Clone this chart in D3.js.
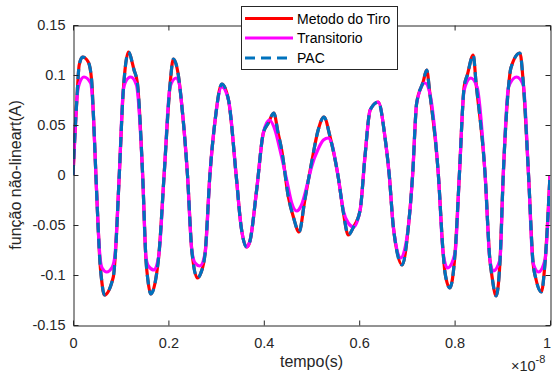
<!DOCTYPE html>
<html>
<head>
<meta charset="utf-8">
<script src="https://cdn.jsdelivr.net/npm/d3@7"></script>
<style>
  html, body { margin: 0; padding: 0; background: #ffffff; }
  svg { display: block; }
  text { font-family: "Liberation Sans", Arial, Helvetica, sans-serif; }
</style>
</head>
<body>
<svg id="chart" width="552" height="374"></svg>
<script>
// ---------- DATA (time in units of 1e-8 s) ----------
const xTickValues = [0, 0.2, 0.4, 0.6, 0.8, 1];
const xTickLabels = ["0", "0.2", "0.4", "0.6", "0.8", "1"];
const yTickValues = [-0.15, -0.1, -0.05, 0, 0.05, 0.1, 0.15];
const yTickLabels = ["-0.15", "-0.1", "-0.05", "0", "0.05", "0.1", "0.15"];
const seriesNames = ["Metodo do Tiro", "Transitorio", "PAC"];

// Metodo do Tiro: [tempo, valor]
const metodoTiro = [
  [0.000, 0.000], [0.004, 0.040], [0.008, 0.075], [0.013, 0.110], [0.020, 0.118],
  [0.032, 0.113], [0.039, 0.095], [0.0426, 0.062], [0.048, 0.000], [0.053, -0.055],
  [0.0566, -0.088], [0.060, -0.105], [0.0657, -0.120], [0.0845, -0.102], [0.088, -0.085],
  [0.097, 0.000], [0.1055, 0.085], [0.109, 0.105], [0.116, 0.123], [0.128, 0.105],
  [0.135, 0.092], [0.146, 0.000], [0.153, -0.085], [0.157, -0.105], [0.163, -0.119],
  [0.1755, -0.098], [0.180, -0.080], [0.191, 0.000], [0.2034, 0.090], [0.2103, 0.116],
  [0.2208, 0.100], [0.228, 0.070], [0.240, 0.000], [0.249, -0.075], [0.2606, -0.103],
  [0.268, -0.098], [0.277, -0.078], [0.287, 0.000], [0.298, 0.055], [0.312, 0.091],
  [0.326, 0.075], [0.342, 0.000], [0.352, -0.050], [0.364, -0.072], [0.371, -0.066],
  [0.385, -0.015], [0.399, 0.042], [0.4095, 0.052], [0.421, 0.062], [0.430, 0.042],
  [0.4375, 0.025], [0.4515, -0.022], [0.462, -0.042], [0.474, -0.057], [0.486, -0.025],
  [0.500, 0.012], [0.514, 0.045], [0.526, 0.058], [0.539, 0.038], [0.556, -0.002],
  [0.567, -0.038], [0.577, -0.060], [0.588, -0.052], [0.602, -0.035], [0.612, 0.018],
  [0.623, 0.065], [0.640, 0.073], [0.654, 0.038], [0.663, 0.000], [0.6716, -0.052],
  [0.690, -0.090], [0.703, -0.052], [0.712, 0.000], [0.7205, 0.072], [0.734, 0.093],
  [0.7415, 0.105], [0.748, 0.082], [0.766, 0.000], [0.776, -0.078], [0.780, -0.098],
  [0.790, -0.113], [0.801, -0.078], [0.810, 0.000], [0.820, 0.088], [0.8267, 0.100],
  [0.839, 0.120], [0.845, 0.092], [0.864, 0.000], [0.874, -0.085], [0.878, -0.100],
  [0.887, -0.121], [0.895, -0.088], [0.902, 0.000], [0.913, 0.088], [0.918, 0.107],
  [0.937, 0.122], [0.944, 0.092], [0.955, 0.000], [0.9645, -0.088], [0.970, -0.103],
  [0.982, -0.117], [0.9895, -0.088], [1.000, 0.000]
];

// Transitorio: [tempo, valor]
const transitorio = [
  [0.000, 0.000], [0.004, 0.040], [0.008, 0.075], [0.013, 0.091], [0.023, 0.098],
  [0.037, 0.092], [0.0426, 0.062], [0.048, 0.000], [0.053, -0.055], [0.0566, -0.082],
  [0.061, -0.093], [0.0706, -0.097], [0.0825, -0.092], [0.088, -0.080], [0.097, 0.000],
  [0.1055, 0.085], [0.110, 0.093], [0.121, 0.098], [0.133, 0.090], [0.146, 0.000],
  [0.153, -0.082], [0.158, -0.091], [0.170, -0.095], [0.180, -0.080], [0.191, 0.000],
  [0.2034, 0.088], [0.216, 0.097], [0.2225, 0.092], [0.228, 0.070], [0.240, 0.000],
  [0.249, -0.075], [0.256, -0.088], [0.266, -0.091], [0.277, -0.078], [0.287, 0.000],
  [0.298, 0.055], [0.312, 0.088], [0.326, 0.075], [0.342, 0.000], [0.352, -0.050],
  [0.364, -0.072], [0.371, -0.066], [0.385, -0.015], [0.399, 0.042], [0.4115, 0.055],
  [0.4235, 0.045], [0.434, 0.025], [0.448, -0.005], [0.4585, -0.028], [0.469, -0.036],
  [0.479, -0.030], [0.4934, -0.005], [0.500, 0.008], [0.514, 0.026], [0.525, 0.035],
  [0.535, 0.037], [0.542, 0.032], [0.556, -0.002], [0.567, -0.036], [0.577, -0.048],
  [0.588, -0.052], [0.602, -0.035], [0.612, 0.018], [0.623, 0.065], [0.640, 0.073],
  [0.654, 0.038], [0.663, 0.000], [0.6716, -0.052], [0.687, -0.083], [0.703, -0.052],
  [0.712, 0.000], [0.7205, 0.072], [0.738, 0.092], [0.748, 0.082], [0.766, 0.000],
  [0.776, -0.078], [0.785, -0.093], [0.801, -0.078], [0.810, 0.000], [0.820, 0.085],
  [0.834, 0.097], [0.847, 0.088], [0.864, 0.000], [0.874, -0.085], [0.881, -0.096],
  [0.895, -0.085], [0.902, 0.000], [0.913, 0.088], [0.930, 0.098], [0.944, 0.090],
  [0.955, 0.000], [0.9645, -0.088], [0.976, -0.097], [0.9895, -0.085], [1.000, 0.000]
];

// PAC coincides with Metodo do Tiro
const pac = metodoTiro.map(d => [d[0], d[1]]);

// ---------- LAYOUT ----------
const svg = d3.select("#chart");
const plotL = 73, plotR = 550, plotT = 25, plotB = 325;
const axisColor = "#262626";

const x = d3.scaleLinear().domain([0, 1]).range([plotL, plotR]);
const y = d3.scaleLinear().domain([-0.15, 0.15]).range([plotB, plotT]);

svg.append("defs").append("clipPath").attr("id", "plotclip")
  .append("rect").attr("x", plotL).attr("y", plotT)
  .attr("width", plotR - plotL).attr("height", plotB - plotT);

svg.append("rect").attr("x", plotL).attr("y", plotT)
  .attr("width", plotR - plotL).attr("height", plotB - plotT).attr("fill", "#fff");

const line = d3.line().x(d => x(d[0])).y(d => y(d[1])).curve(d3.curveMonotoneX);
const g = svg.append("g").attr("clip-path", "url(#plotclip)");
g.append("path").datum(metodoTiro).attr("d", line)
  .attr("fill", "none").attr("stroke", "#ff0000").attr("stroke-width", 3.2)
  .attr("stroke-linejoin", "round");
g.append("path").datum(transitorio).attr("d", line)
  .attr("fill", "none").attr("stroke", "#ff00ff").attr("stroke-width", 3.2)
  .attr("stroke-linejoin", "round");
g.append("path").datum(pac).attr("d", line)
  .attr("fill", "none").attr("stroke", "#0072bd").attr("stroke-width", 3.2)
  .attr("stroke-dasharray", "10,6");

function styleAxis(sel) {
  sel.selectAll("path.domain").attr("stroke", axisColor).attr("stroke-width", 1);
  sel.selectAll(".tick line").attr("stroke", axisColor).attr("stroke-width", 1);
  sel.selectAll(".tick text").attr("fill", axisColor)
    .style("font-size", "14.5px")
    .style("font-family", '"Liberation Sans", Arial, sans-serif');
}
const xAxisB = d3.axisBottom(x).tickValues(xTickValues)
  .tickFormat((d, i) => xTickLabels[i]).tickSizeInner(-5).tickSizeOuter(0).tickPadding(12);
const xAxisT = d3.axisTop(x).tickValues(xTickValues)
  .tickFormat("").tickSizeInner(-5).tickSizeOuter(0);
const yAxisL = d3.axisLeft(y).tickValues(yTickValues)
  .tickFormat((d, i) => yTickLabels[i]).tickSizeInner(-5).tickSizeOuter(0).tickPadding(8);
const yAxisR = d3.axisRight(y).tickValues(yTickValues)
  .tickFormat("").tickSizeInner(-5).tickSizeOuter(0);

const gxb = svg.append("g").attr("transform", `translate(0,${plotB + 0.5})`).call(xAxisB).call(styleAxis);
svg.append("g").attr("transform", `translate(0,${plotT + 0.5})`).call(xAxisT).call(styleAxis);
svg.append("g").attr("transform", `translate(${plotL + 0.5},0)`).call(yAxisL).call(styleAxis);
svg.append("g").attr("transform", `translate(${plotR + 0.5},0)`).call(yAxisR).call(styleAxis);
// keep the last x tick label inside the picture
gxb.selectAll(".tick text").filter(d => d === 1).attr("text-anchor", "end").attr("x", 0.5);

svg.append("text").attr("x", (plotL + plotR) / 2).attr("y", 367)
  .attr("text-anchor", "middle").attr("fill", axisColor).style("font-size", "16px")
  .text("tempo(s)");
svg.append("text").attr("transform", `translate(21,${(plotT + plotB) / 2}) rotate(-90)`)
  .attr("text-anchor", "middle").attr("fill", axisColor).style("font-size", "16px")
  .text("função não-lineart(A)");

const ex = svg.append("text").attr("x", 511).attr("y", 371).attr("fill", axisColor)
  .style("font-size", "14.5px");
ex.append("tspan").text("×10");
ex.append("tspan").attr("dy", -8).style("font-size", "11px").text("-8");

const lg = svg.append("g");
lg.append("rect").attr("x", 241.5).attr("y", 6.5).attr("width", 156).attr("height", 63)
  .attr("fill", "#fff").attr("stroke", axisColor).attr("stroke-width", 1);
const legendStyles = [
  { color: "#ff0000", dash: null },
  { color: "#ff00ff", dash: null },
  { color: "#0072bd", dash: "10,6" }
];
const legendY = [18.5, 38, 58];
seriesNames.forEach((name, i) => {
  const ln = lg.append("line").attr("x1", 245).attr("x2", 293)
    .attr("y1", legendY[i]).attr("y2", legendY[i])
    .attr("stroke", legendStyles[i].color).attr("stroke-width", 3);
  if (legendStyles[i].dash) ln.attr("stroke-dasharray", legendStyles[i].dash);
  lg.append("text").attr("x", 297).attr("y", legendY[i] + 5)
    .attr("fill", "#000").style("font-size", "14px").text(name);
});
</script>
</body>
</html>
